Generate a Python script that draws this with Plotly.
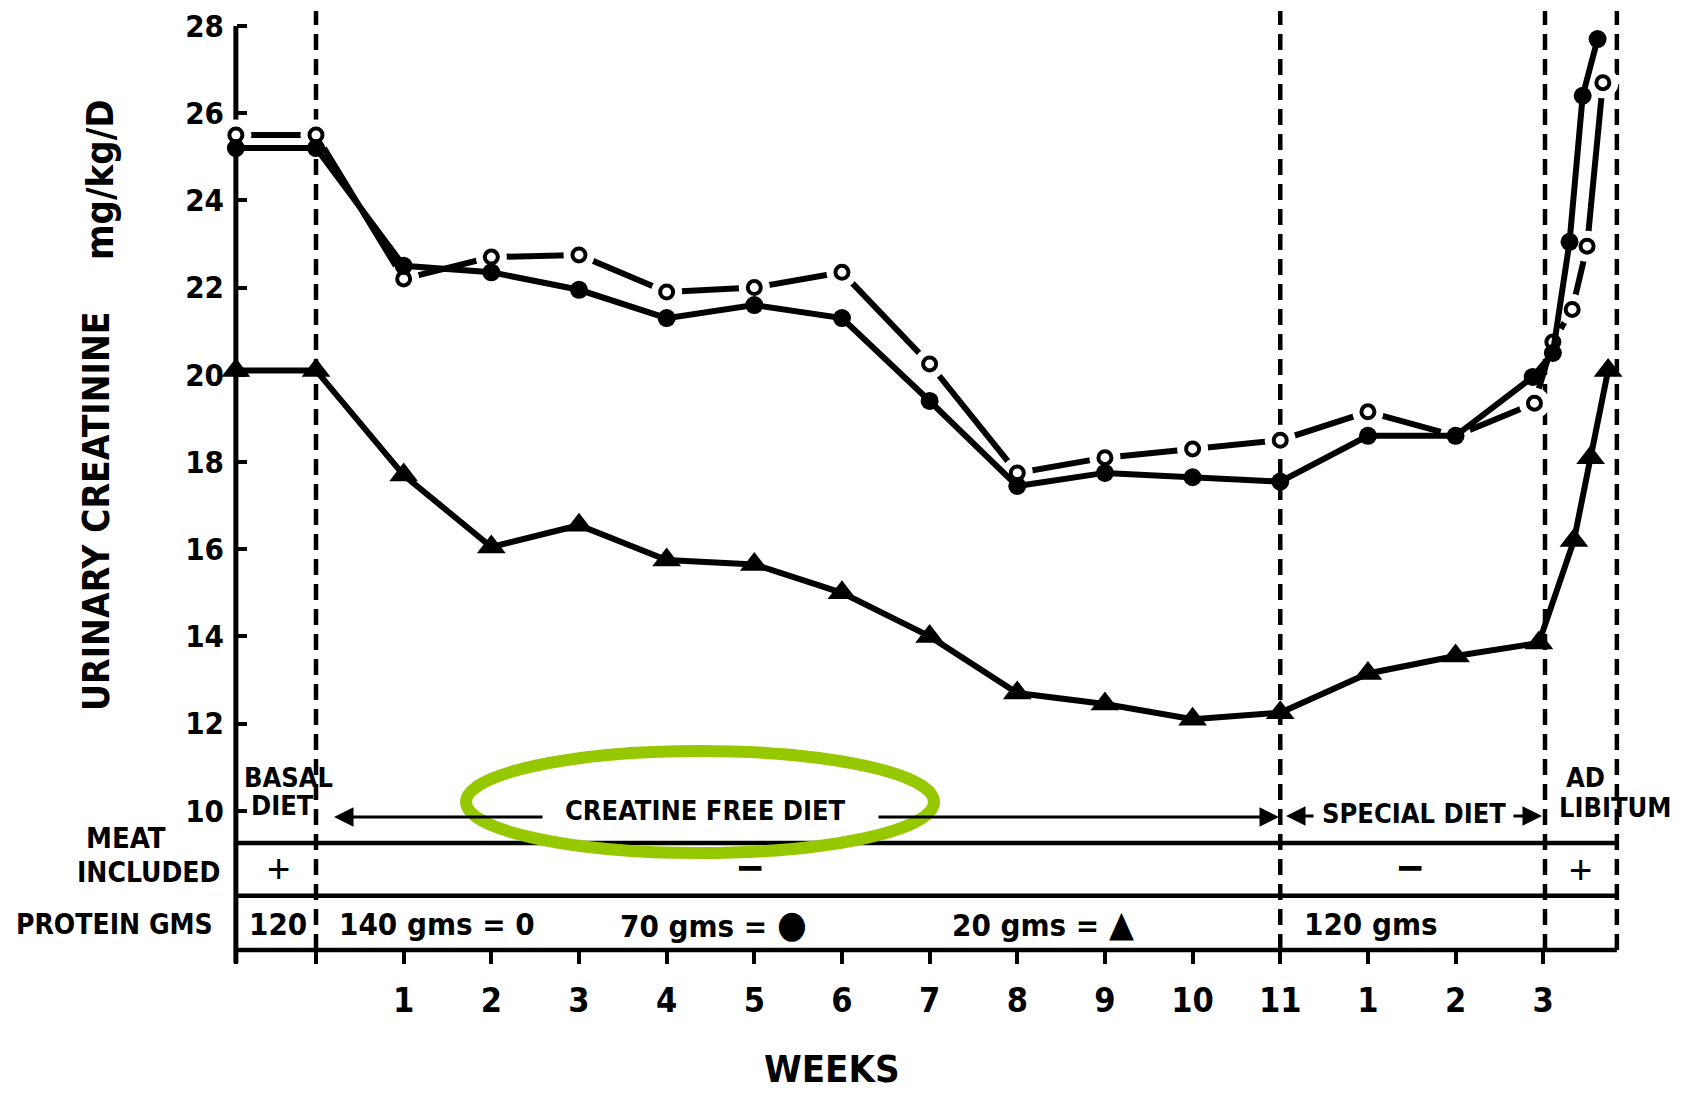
import plotly.graph_objects as go

# ---------------- data ----------------
# x positions in weeks: -0.914 = start of basal period (y-axis), 0 = start of
# creatine-free diet, 11 = start of special diet, 14 = start of ad libitum
open_x = [-0.914, 0, 1, 2, 3, 4, 5, 6, 7, 8, 9, 10, 11, 12, 13, 13.9, 14.11, 14.33, 14.5, 14.68]
open_y = [25.5, 25.5, 22.2, 22.7, 22.75, 21.9, 22.0, 22.35, 20.25, 17.75, 18.1, 18.3, 18.5,
          19.15, 18.6, 19.35, 20.75, 21.5, 22.95, 26.7]          # 140 gms protein

filled_x = [-0.914, 0, 1, 2, 3, 4, 5, 6, 7, 8, 9, 10, 11, 12, 13, 13.88, 14.11, 14.3, 14.45, 14.62]
filled_y = [25.2, 25.2, 22.5, 22.35, 21.95, 21.3, 21.6, 21.3, 19.4, 17.45, 17.75, 17.65, 17.55,
            18.6, 18.6, 19.95, 20.5, 23.05, 26.4, 27.7]          # 70 gms protein

tri_x = [-0.914, 0, 1, 2, 3, 4, 5, 6, 7, 8, 9, 10, 11, 12, 13, 13.95, 14.35, 14.54, 14.74]
tri_y = [20.1, 20.1, 17.7, 16.05, 16.55, 15.75, 15.65, 15.0, 14.0, 12.7, 12.45, 12.1, 12.25,
         13.15, 13.55, 13.85, 16.2, 18.1, 20.1]                  # 20 gms protein

week_tickvals = [-0.914, 0, 1, 2, 3, 4, 5, 6, 7, 8, 9, 10, 11, 12, 13, 14]
week_ticktext = ["", "", "1", "2", "3", "4", "5", "6", "7", "8", "9", "10", "11", "1", "2", "3"]
y_tickvals = [10, 12, 14, 16, 18, 20, 22, 24, 26, 28]

period_bounds = [0, 11, 14.02]       # dashed period separators
x_start, x_end = -0.914, 14.84
row_lines = [9.26, 8.05, 6.81]       # table rows (MEAT / PROTEIN / axis)

# ---------------- layout helpers (pixel -> axis units) ----------------
W, H = 1688, 1093
X0, XS = 316.0, 87.66     # px of week 0, px per week
Y28, YS = 26.0, 43.6      # px of value 28, px per unit
def X(px): return (px - X0) / XS
def Y(py): return 28 - (py - Y28) / YS

FONT = "DejaVu Sans Condensed, Liberation Sans Narrow, Roboto, sans-serif"
BLACK = "#000000"
GREEN = "#96C800"

fig = go.Figure()

# open circles (140 gms): line, white halo, markers
fig.add_trace(go.Scatter(x=open_x, y=open_y, mode="lines",
                         line=dict(color=BLACK, width=6), hoverinfo="skip"))
fig.add_trace(go.Scatter(x=open_x, y=open_y, mode="markers",
                         marker=dict(size=31, color="white", line=dict(width=0)),
                         hoverinfo="skip"))
fig.add_trace(go.Scatter(x=open_x, y=open_y, mode="markers",
                         marker=dict(size=13, color="white", line=dict(color=BLACK, width=4)),
                         name="140 gms"))
# filled circles (70 gms)
fig.add_trace(go.Scatter(x=filled_x, y=filled_y, mode="lines+markers",
                         line=dict(color=BLACK, width=6),
                         marker=dict(size=18, color=BLACK), name="70 gms"))
# triangles (20 gms)
fig.add_trace(go.Scatter(x=tri_x, y=tri_y, mode="lines+markers",
                         line=dict(color=BLACK, width=6),
                         marker=dict(size=25, color=BLACK, symbol="triangle-up"),
                         name="20 gms"))

shapes = []
# y axis line
shapes.append(dict(type="line", xref="x", yref="y", x0=x_start, x1=x_start, y0=Y(963), y1=28,
                   line=dict(color=BLACK, width=5), layer="below"))
# table lines
for ry in row_lines:
    shapes.append(dict(type="line", xref="x", yref="y", x0=x_start, x1=x_end, y0=ry, y1=ry,
                       line=dict(color=BLACK, width=4.5), layer="below"))
# dashed separators
for bx in period_bounds:
    shapes.append(dict(type="line", xref="x", yref="y", x0=bx, x1=bx, y0=row_lines[-1], y1=Y(11),
                       line=dict(color=BLACK, width=4.5, dash="16px,9px"), layer="below"))
shapes.append(dict(type="line", xref="x", yref="y", x0=x_end, x1=x_end, y0=row_lines[-1], y1=Y(11),
                   line=dict(color=BLACK, width=4.5, dash="16px,9px"), layer="below"))
# green highlight ellipse
shapes.append(dict(type="circle", xref="x", yref="y", x0=X(466), x1=X(934), y0=Y(853), y1=Y(751),
                   line=dict(color=GREEN, width=12), layer="above"))

def txt(text, px, py, size, anchor="center", angle=0, weight="bold", family=FONT):
    return dict(text=text, x=X(px), y=Y(py), xref="x", yref="y", showarrow=False,
                xanchor=anchor, yanchor="middle", textangle=angle,
                font=dict(family=family, size=size, color=BLACK, weight=weight))

ann = [
    txt("URINARY CREATININE", 96, 511, 37, angle=-90),
    txt("mg/kg/D", 100, 180, 38, angle=-90),
    txt("WEEKS", 832, 1069, 38),
    txt("MEAT", 126, 838, 29),
    txt("INCLUDED", 223, 872, 28, anchor="right"),
    txt("PROTEIN GMS", 215, 924, 28, anchor="right"),
    txt("BASAL", 288, 777, 27),
    txt("DIET", 282, 805, 27),
    txt("+", 278, 869, 40, weight="normal", family="Liberation Sans"),
    txt("−", 750, 867, 40),
    txt("−", 1410, 867, 40),
    txt("+", 1580, 870, 40, weight="normal", family="Liberation Sans"),
    txt("120", 278, 924, 31),
    txt("140 gms = 0", 437, 924, 31),
    txt("70 gms = <span style='font-size:38px'>●</span>", 713, 924, 31),
    txt("20 gms = <span style='font-size:36px'>▲</span>", 1043, 923, 31),
    txt("120 gms", 1371, 924, 31),
    txt("CREATINE FREE DIET", 705, 810, 27),
    txt("SPECIAL DIET", 1414, 813, 27),
    txt("AD", 1585, 777, 27),
    txt("LIBITUM", 1615, 807, 27),
]

def arrow(tip_px, tail_px, py):
    return dict(x=X(tip_px), y=Y(py), ax=X(tail_px), ay=Y(py), xref="x", yref="y",
                axref="x", ayref="y", text="", showarrow=True, arrowhead=2,
                arrowsize=1.3, arrowwidth=3, arrowcolor=BLACK, standoff=0, startstandoff=0)

ann += [arrow(334, 544, 817), arrow(1279, 877, 817),
        arrow(1286, 1315, 816), arrow(1542, 1512, 816)]

fig.update_layout(
    width=W, height=H,
    margin=dict(l=0, r=0, t=0, b=0, autoexpand=False),
    paper_bgcolor="white", plot_bgcolor="white",
    showlegend=False,
    shapes=shapes, annotations=ann,
    xaxis=dict(range=[X(0), X(W)], anchor="free", position=(H - 950) / H,
               showline=False, showgrid=False, zeroline=False,
               ticks="outside", ticklen=13, tickwidth=4, tickcolor=BLACK,
               tickvals=week_tickvals, ticktext=week_ticktext, ticklabelstandoff=7,
               tickfont=dict(family=FONT, size=34, color=BLACK, weight="bold")),
    yaxis=dict(range=[Y(H), Y(0)], anchor="free", position=236 / W,
               showline=False, showgrid=False, zeroline=False,
               ticks="inside", ticklen=10, tickwidth=4, tickcolor=BLACK,
               tickvals=y_tickvals, ticklabelstandoff=12,
               tickfont=dict(family=FONT, size=31, color=BLACK, weight="bold")),
)

fig.write_html("out.html")
